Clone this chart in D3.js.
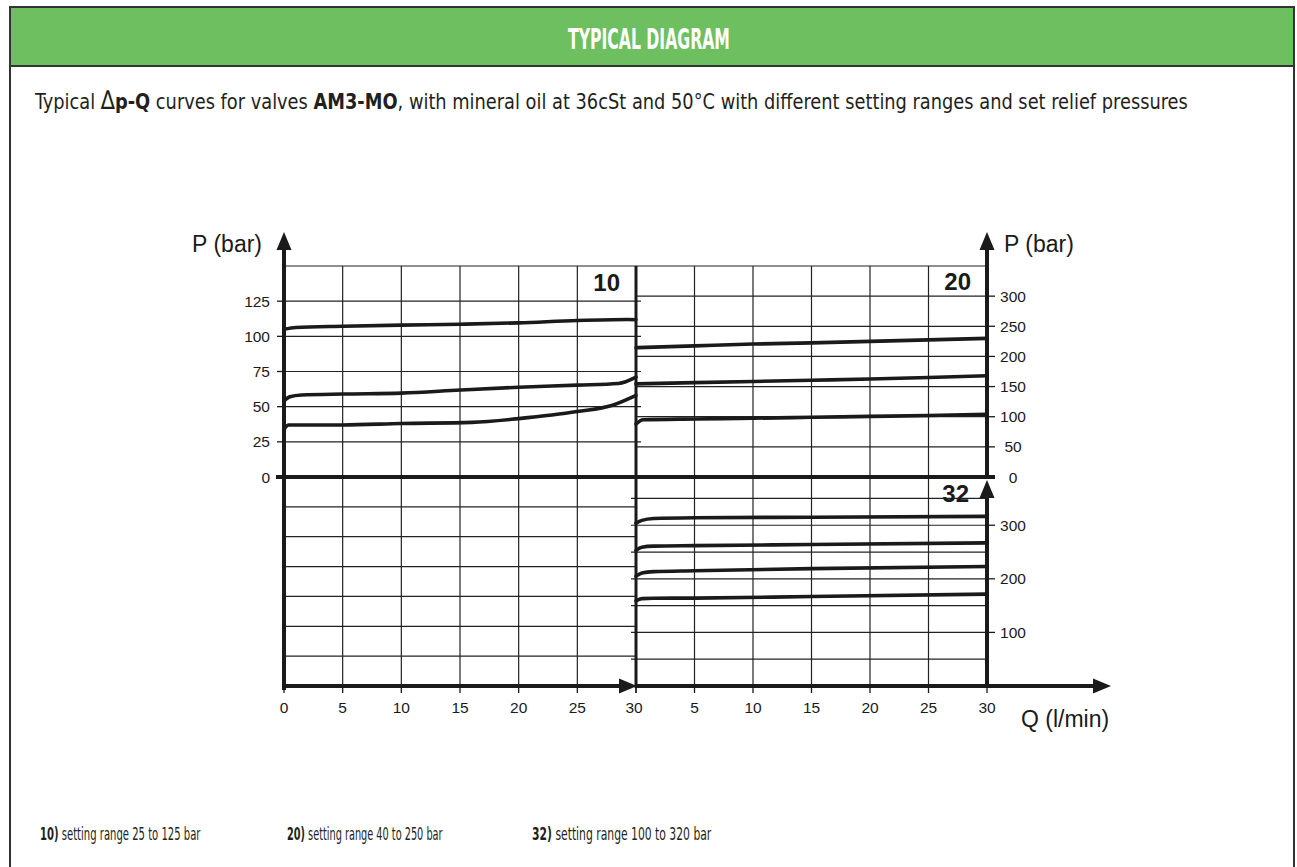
<!DOCTYPE html>
<html>
<head>
<meta charset="utf-8">
<script src="https://cdn.jsdelivr.net/npm/d3@7"></script>
<style>
	body { margin: 0; background: #fff; }
	.cond { font-family: 'Liberation Sans Narrow', 'DejaVu Sans Condensed', 'Open Sans', sans-serif; font-stretch: condensed; }
	.arial { font-family: 'Liberation Sans', Arial, sans-serif; fill: #1a1a1a; }
</style>
</head>
<body>
<svg id="chart" width="1297" height="867"></svg>
<script>
// ticks
const qTicks = [0, 5, 10, 15, 20, 25, 30]
const pTicks10 = [0, 25, 50, 75, 100, 125]
const pTicks20 = [0, 50, 100, 150, 200, 250, 300]
const pTicks32 = [100, 200, 300]

// range 10 curves (Q l/min, P bar)
const q10a = [0, 1, 5, 10, 15, 20, 25, 29.3, 30]
const p10a = [105, 106.3, 107.2, 108, 108.6, 109.6, 111.3, 112, 111.8]
const q10b = [0, 0.5, 1.5, 5, 10, 15, 20, 25, 28.5, 30]
const p10b = [54, 57, 58.3, 59, 59.6, 61.8, 63.8, 65.3, 66.5, 71]
const q10c = [0, 0.4, 5, 10, 16, 20, 25, 28, 30]
const p10c = [34, 37, 37, 38, 38.8, 41.5, 46.5, 51, 58]

// range 20 curves
const q20 = [0, 5, 10, 15, 20, 25, 30]
const p20a = [214.5, 217.5, 220.5, 222.5, 225, 227.5, 230]
const p20b = [154.5, 156.5, 158.5, 160.5, 162.5, 165, 168]
const q20c = [0, 0.6, 5, 10, 15, 20, 25, 30]
const p20c = [88, 95, 96.3, 97.5, 99, 100.5, 102, 104]

// range 32 curves
const q32 = [0, 0.5, 1.5, 5, 15, 30]
const p32a = [304, 309, 312.5, 314, 315, 316.5]
const p32b = [253, 259, 261, 262, 264, 267]
const p32c = [205, 211, 213.5, 215, 219, 223]
const p32d = [159, 163, 163.8, 164, 167, 171.5]

const noteKeys = ['10)', '20)', '32)']
const noteTexts = [' setting range 25 to 125 bar', '  setting range 40 to 250 bar', ' setting range 100 to 320 bar']

const ink = '#1a1a1a'
const svg = d3.select('#chart')

// squeeze a text horizontally so it spans the given width (condensed face look)
const fitText = (sel, x, y, width) => {
	const w = sel.node().getBBox().width
	sel.attr('transform', `translate(${x},${y}) scale(${width / w},1)`)
}

// header + frame
svg.append('rect').attr('x', 10).attr('y', 7).attr('width', 1284).attr('height', 59)
	.attr('fill', '#6dbf5f').attr('stroke', '#333').attr('stroke-width', 2)
svg.append('line').attr('x1', 10).attr('x2', 10).attr('y1', 66).attr('y2', 867).attr('stroke', '#333').attr('stroke-width', 2)
svg.append('line').attr('x1', 1294).attr('x2', 1294).attr('y1', 66).attr('y2', 867).attr('stroke', '#333').attr('stroke-width', 2)

const title = svg.append('text').attr('class', 'cond')
	.attr('fill', '#fff').attr('font-weight', 'bold').attr('font-size', 29)
	.text('TYPICAL DIAGRAM')
fitText(title, 568, 49, 162)

const sub = svg.append('text').attr('class', 'cond')
	.attr('fill', '#231f20').attr('font-size', 22)
sub.append('tspan').text('Typical ')
sub.append('tspan').attr('font-size', 26).text('\u2206')
sub.append('tspan').attr('font-weight', 'bold').text('p-Q')
sub.append('tspan').text(' curves for valves ')
sub.append('tspan').attr('font-weight', 'bold').text('AM3-MO')
sub.append('tspan').text(', with mineral oil at 36cSt and 50\u00b0C with different setting ranges and set relief pressures')
fitText(sub, 35, 109, 1155)

// scales
const x10 = d3.scaleLinear().domain([0, 30]).range([284, 636])
const x20 = d3.scaleLinear().domain([0, 30]).range([636, 987])
const y10 = d3.scaleLinear().domain([0, 150]).range([477, 266])
const y20 = d3.scaleLinear().domain([0, 350]).range([477, 266])
const y32 = d3.scaleLinear().domain([0, 390]).range([686, 477])
const yLow = d3.scaleLinear().domain([0, 7]).range([686, 477])

const grid = svg.append('g').attr('stroke', '#222').attr('stroke-width', 1.2)

// vertical grid
qTicks.slice(1, 6).forEach(q => {
	grid.append('line').attr('x1', x10(q)).attr('x2', x10(q)).attr('y1', 266).attr('y2', 686)
	grid.append('line').attr('x1', x20(q)).attr('x2', x20(q)).attr('y1', 266).attr('y2', 686)
})
// horizontal grid
grid.append('line').attr('x1', 284).attr('x2', 987).attr('y1', 266).attr('y2', 266)
pTicks10.slice(1).forEach(p => {
	grid.append('line').attr('x1', 284).attr('x2', 641).attr('y1', y10(p)).attr('y2', y10(p))
})
d3.range(1, 7).forEach(k => {
	grid.append('line').attr('x1', 284).attr('x2', 636).attr('y1', yLow(k)).attr('y2', yLow(k))
})
pTicks20.slice(1).forEach(p => {
	grid.append('line').attr('x1', 636).attr('x2', 987).attr('y1', y20(p)).attr('y2', y20(p))
})
d3.range(50, 400, 50).forEach(p => {
	grid.append('line').attr('x1', 631).attr('x2', 987).attr('y1', y32(p)).attr('y2', y32(p))
})

// axes
const axes = svg.append('g').attr('stroke', ink).attr('stroke-width', 4)
axes.append('line').attr('x1', 284).attr('x2', 284).attr('y1', 690).attr('y2', 248)
axes.append('line').attr('x1', 987).attr('x2', 987).attr('y1', 477).attr('y2', 248)
axes.append('line').attr('x1', 987).attr('x2', 987).attr('y1', 688).attr('y2', 494)
axes.append('line').attr('x1', 276).attr('x2', 995).attr('y1', 477).attr('y2', 477)
axes.append('line').attr('x1', 284).attr('x2', 622).attr('y1', 686).attr('y2', 686)
axes.append('line').attr('x1', 636).attr('x2', 1095).attr('y1', 686).attr('y2', 686)
axes.append('line').attr('x1', 636).attr('x2', 636).attr('y1', 266).attr('y2', 688).attr('stroke-width', 3)

const arrow = (x, y, dir) => {
	const l = 18, w = 7.5
	const pts = dir === 'up'
		? [[x, y], [x - w, y + l], [x + w, y + l]]
		: [[x, y], [x - l, y - w], [x - l, y + w]]
	svg.append('path').attr('d', 'M' + pts.join('L') + 'Z').attr('fill', ink)
}
arrow(284, 232, 'up')
arrow(987, 232, 'up')
arrow(987, 480, 'up')
arrow(637, 686, 'right')
arrow(1111, 686, 'right')

// tick marks + labels
const ticks = svg.append('g')
const tickFont = 15.5
pTicks10.forEach(p => {
	ticks.append('line').attr('x1', 277).attr('x2', 284).attr('y1', y10(p)).attr('y2', y10(p)).attr('stroke', ink).attr('stroke-width', 1.3)
	ticks.append('text').attr('class', 'arial').attr('x', 270).attr('y', y10(p) + 5.5)
		.attr('text-anchor', 'end').attr('font-size', tickFont).text(p)
})
pTicks20.forEach(p => {
	ticks.append('line').attr('x1', 987).attr('x2', 995).attr('y1', y20(p)).attr('y2', y20(p)).attr('stroke', ink).attr('stroke-width', 1.3)
	ticks.append('text').attr('class', 'arial').attr('x', 1013).attr('y', y20(p) + 5.5)
		.attr('text-anchor', 'middle').attr('font-size', tickFont).text(p)
})
pTicks32.forEach(p => {
	ticks.append('line').attr('x1', 987).attr('x2', 995).attr('y1', y32(p)).attr('y2', y32(p)).attr('stroke', ink).attr('stroke-width', 1.3)
	ticks.append('text').attr('class', 'arial').attr('x', 1013).attr('y', y32(p) + 5.5)
		.attr('text-anchor', 'middle').attr('font-size', tickFont).text(p)
})
qTicks.forEach(q => {
	ticks.append('line').attr('x1', x10(q)).attr('x2', x10(q)).attr('y1', 686).attr('y2', 693).attr('stroke', ink).attr('stroke-width', 1.3)
	ticks.append('line').attr('x1', x20(q)).attr('x2', x20(q)).attr('y1', 686).attr('y2', 693).attr('stroke', ink).attr('stroke-width', 1.3)
	ticks.append('text').attr('class', 'arial').attr('x', q === 30 ? x10(q) - 2 : x10(q)).attr('y', 713)
		.attr('text-anchor', 'middle').attr('font-size', tickFont).text(q)
	if (q > 0) {
		ticks.append('text').attr('class', 'arial').attr('x', x20(q)).attr('y', 713)
			.attr('text-anchor', 'middle').attr('font-size', tickFont).text(q)
	}
})

// axis titles
svg.append('text').attr('class', 'arial').attr('x', 262).attr('y', 252).attr('text-anchor', 'end').attr('font-size', 23).text('P (bar)')
svg.append('text').attr('class', 'arial').attr('x', 1004).attr('y', 252).attr('font-size', 23).text('P (bar)')
svg.append('text').attr('class', 'arial').attr('x', 1021).attr('y', 727).attr('font-size', 23).text('Q (l/min)')

// panel labels
svg.append('text').attr('class', 'arial').attr('x', 620).attr('y', 291).attr('text-anchor', 'end').attr('font-size', 24).attr('font-weight', 'bold').text('10')
svg.append('text').attr('class', 'arial').attr('x', 971).attr('y', 290).attr('text-anchor', 'end').attr('font-size', 24).attr('font-weight', 'bold').text('20')
svg.append('text').attr('class', 'arial').attr('x', 969).attr('y', 502).attr('text-anchor', 'end').attr('font-size', 24).attr('font-weight', 'bold').text('32')

// curves
const curves = [
	[q10a, p10a, x10, y10], [q10b, p10b, x10, y10], [q10c, p10c, x10, y10],
	[q20, p20a, x20, y20], [q20, p20b, x20, y20], [q20c, p20c, x20, y20],
	[q32, p32a, x20, y32], [q32, p32b, x20, y32], [q32, p32c, x20, y32], [q32, p32d, x20, y32]
]
curves.forEach(([qs, ps, x, y]) => {
	const line = d3.line()
		.x(d => x(d[0]))
		.y(d => y(d[1]))
		.curve(d3.curveMonotoneX)
	svg.append('path')
		.attr('d', line(d3.zip(qs, ps)))
		.attr('fill', 'none')
		.attr('stroke', ink)
		.attr('stroke-width', 3.6)
		.attr('stroke-linecap', 'round')
})

// footnotes
const noteX = [40, 287, 532]
const noteW = [161, 156, 180]
noteKeys.forEach((k, i) => {
	const t = svg.append('text').attr('class', 'cond')
		.attr('fill', '#231f20').attr('font-size', 17)
	t.append('tspan').attr('font-weight', 'bold').text(k)
	t.append('tspan').text(noteTexts[i])
	fitText(t, noteX[i], 840, noteW[i])
})
</script>
</body>
</html>
